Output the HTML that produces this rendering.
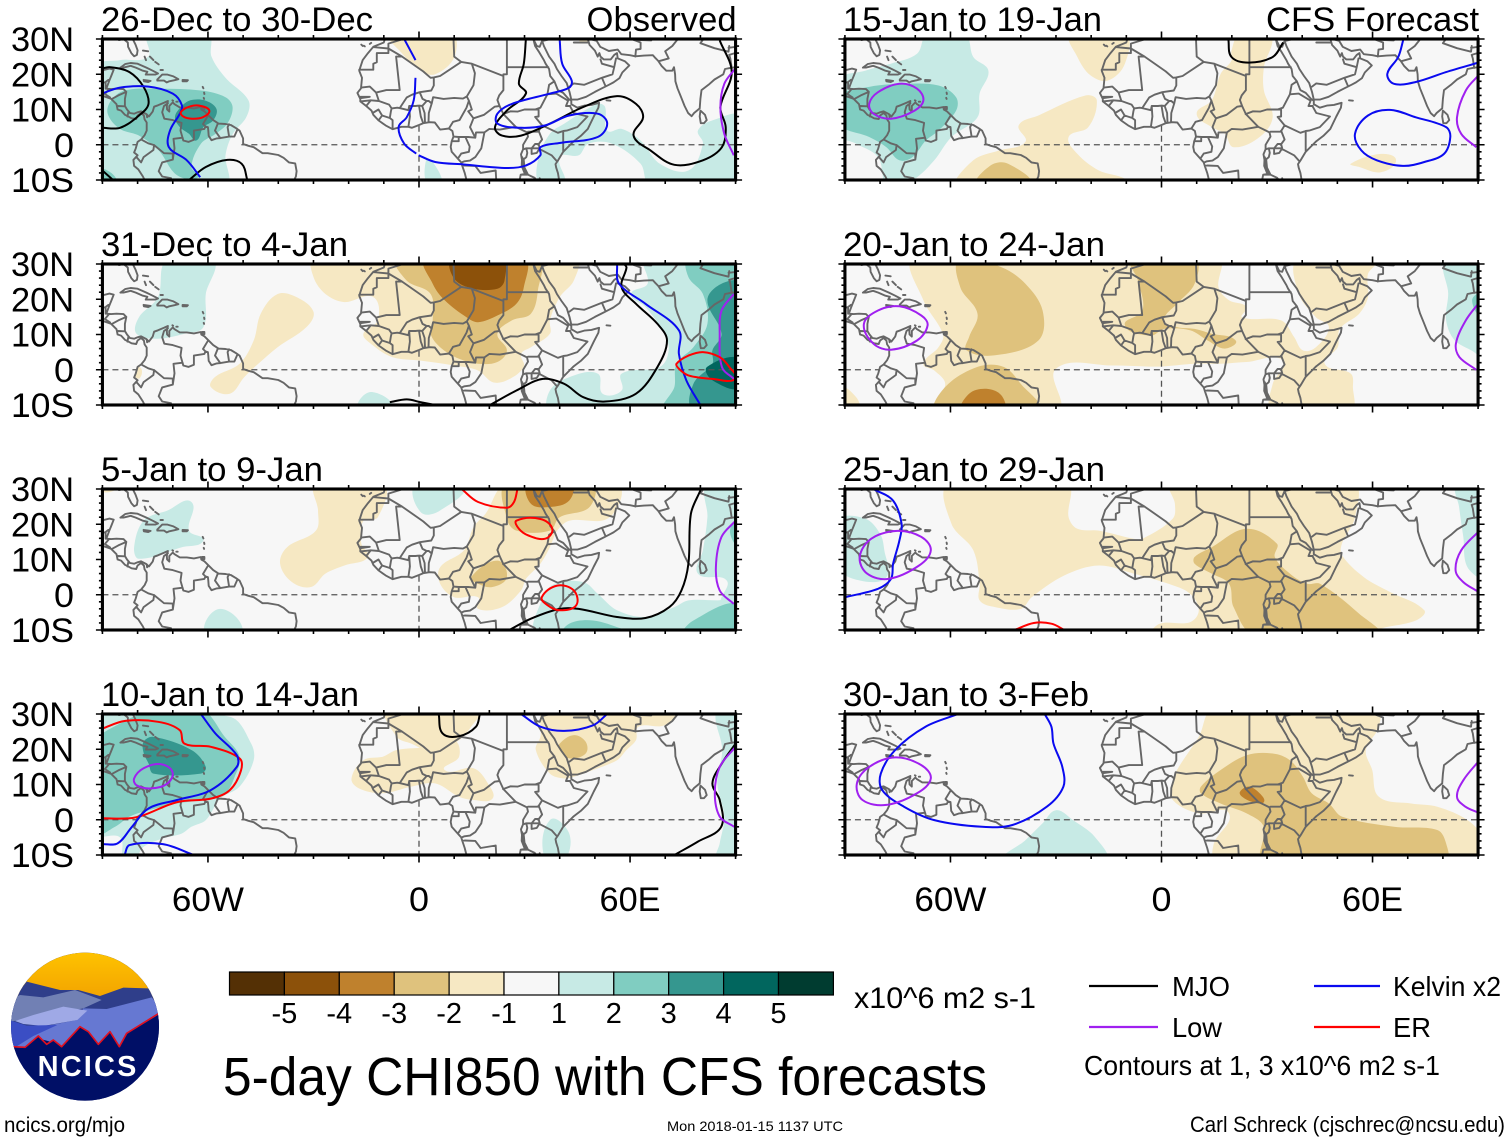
<!DOCTYPE html>
<html lang="en">
<head>
<meta charset="utf-8">
<title>5-day CHI850 with CFS forecasts</title>
<style>
html,body{margin:0;padding:0;background:#fff}
svg{display:block}
text{font-family:"Liberation Sans",Arial,sans-serif;fill:#000}
</style>
</head>
<body>
<svg id="chart" xmlns="http://www.w3.org/2000/svg" width="1510" height="1142" viewBox="0 0 1510 1142">
<rect x="0" y="0" width="1510" height="1142" fill="#ffffff"/>
<g id="panels"></g>
<g id="colorbar"></g>

<g transform="translate(0,940) scale(0.33333)">
<defs>
<clipPath id="logoClip"><circle cx="255" cy="260" r="222"/></clipPath>
<linearGradient id="sunGrad" x1="0" y1="0" x2="0" y2="1"><stop offset="0" stop-color="#ffc400"/><stop offset="1" stop-color="#f2a200"/></linearGradient>
</defs>
<g clip-path="url(#logoClip)">
<rect x="0" y="0" width="520" height="520" fill="#000f66"/>
<rect x="0" y="30" width="520" height="150" fill="url(#sunGrad)"/>
<polygon fill="#2f3e8a" points="20,190 60,150 80,125 120,135 180,150 235,150 300,168 370,143 445,145 490,190 490,260 20,260"/>
<polygon fill="#7180b4" points="30,180 60,165 130,172 225,150 305,180 250,205 30,245"/>
<polygon fill="#6678d2" points="250,205 320,207 455,172 490,215 380,290 358,330 330,280 295,320 240,265 185,325 150,305 115,295 80,330 40,330 50,300 130,260 230,240"/>
<polygon fill="#9fa9e6" points="45,243 100,225 190,200 262,212 232,240 130,258 70,252"/>
<polygon fill="#3b4ec4" points="20,238 80,257 172,255 100,288 45,322 20,320"/>
<polygon fill="#000f66" points="40,322 75,324 115,288 140,315 160,300 185,322 240,260 265,275 295,315 330,275 358,322 380,282 490,215 500,520 0,520 0,322"/>
<polyline fill="none" stroke="#e01020" stroke-width="5" stroke-linejoin="round" points="40,320 75,322 115,288 140,313 160,300 185,320 240,260 265,275 295,313 330,275 358,320 380,280 480,218"/>
</g>
<text x="113" y="408" font-size="87" font-weight="bold" textLength="296" lengthAdjust="spacing" style="fill:#ffffff">NCICS</text>
</g>

<text x="854" y="1008" font-size="30" textLength="182" lengthAdjust="spacingAndGlyphs">x10^6 m2 s-1</text>
<text x="223" y="1095" font-size="54" textLength="764" lengthAdjust="spacingAndGlyphs">5-day CHI850 with CFS forecasts</text>

<g>
<line x1="1089" x2="1158" y1="986" y2="986" stroke="#000000" stroke-width="2.2"/>
<text x="1172" y="996" font-size="28" textLength="58" lengthAdjust="spacingAndGlyphs">MJO</text>
<line x1="1314" x2="1380" y1="986" y2="986" stroke="#0a0af0" stroke-width="2.2"/>
<text x="1393" y="996" font-size="28" textLength="108" lengthAdjust="spacingAndGlyphs">Kelvin x2</text>
<line x1="1089" x2="1158" y1="1027" y2="1027" stroke="#a020f0" stroke-width="2.2"/>
<text x="1172" y="1037" font-size="28" textLength="50" lengthAdjust="spacingAndGlyphs">Low</text>
<line x1="1314" x2="1380" y1="1027" y2="1027" stroke="#ff0000" stroke-width="2.2"/>
<text x="1393" y="1037" font-size="28" textLength="38" lengthAdjust="spacingAndGlyphs">ER</text>
<text x="1084" y="1075" font-size="28" textLength="356" lengthAdjust="spacingAndGlyphs">Contours at 1, 3 x10^6 m2 s-1</text>
</g>

<text x="4" y="1132" font-size="21.5" textLength="121" lengthAdjust="spacingAndGlyphs">ncics.org/mjo</text>
<text x="667" y="1131" font-size="14" textLength="176" lengthAdjust="spacingAndGlyphs">Mon 2018-01-15 1137 UTC</text>
<text x="1190" y="1132" font-size="22" textLength="315" lengthAdjust="spacingAndGlyphs">Carl Schreck (cjschrec@ncsu.edu)</text>
</svg>

<script>
/* ---------- categories and tick labels ---------- */
const panelTitles = ['26-Dec to 30-Dec','31-Dec to 4-Jan','5-Jan to 9-Jan','10-Jan to 14-Jan','15-Jan to 19-Jan','20-Jan to 24-Jan','25-Jan to 29-Jan','30-Jan to 3-Feb'];
const titleWidths = [272,247,222,258,259,262,262,246];
const latTicks = [30,20,10,0,-10];
const latLabels = ['30N','20N','10N','0','10S'];
const lonTicks = [-60,0,60];
const lonLabels = ['60W','0','60E'];
const lonLabelWidths = [72,20,61];
const colorbarColors = ['#543005','#8c510a','#bf812d','#dfc27d','#f6e8c3','#f7f7f7','#c7eae5','#80cdc1','#35978f','#01665e','#003c30'];
const colorbarLabels = ['-5','-4','-3','-2','-1','1','2','3','4','5'];

/* ---------- base map, lon/lat pairs ---------- */
const coastLines = [
[-81.4,32,-81,31,-81.4,30,-80.6,28.4,-80,26.8,-80.2,25.5,-81,25.1,-81.8,26,-82.7,27.8,-82.8,29,-84,30,-85.3,29.7,-86.5,30.4,-89,30.3,-90,29.5,-92,29.5],
[-93,18.5,-92,18.6,-90.7,19.3,-90.4,21,-88,21.6,-86.8,21.3,-87.5,19.5,-88,18.3,-88.3,17.5,-88.9,15.9,-87.5,15.8,-86,15.9,-84,15.8,-83.2,15,-83.6,13,-83.6,11,-83,10,-82.2,9,-81,8.8,-80,9.2,-79,9.5,-77.5,8.7,-76.8,8,-75.7,9.4,-75.3,10.8,-74.2,11.2,-72.5,11.9,-71.4,12.4,-71.7,11,-71.6,10,-71,9.4,-71,11,-70,12,-69.5,11.5,-68,10.6,-66,10.6,-64,10.3,-62,10.7,-61.9,10,-61,9.5,-60,8.5,-58.5,7,-57,6,-55,5.9,-53.5,5.6,-52,4.7,-51,4,-50,1.8,-50,0.2,-48.5,-0.3,-47,-0.7,-44.5,-2.4,-43,-2.4,-40,-2.9,-38.5,-3.7,-37,-5,-35.2,-5.3,-34.8,-7.5,-35,-9,-35.5,-10,-36.5,-11],
[-93,15,-92,14.5,-90,13.9,-88,13.2,-87.5,13,-86,11.5,-85.7,10,-84.7,9.7,-83.6,8.5,-83,8.2,-81.7,7.5,-80.4,7.3,-80,8.3,-79,9,-78.2,8.3,-78,7.2,-77.4,6.3,-77.4,4,-78,2.7,-79,1.5,-80,0.8,-80.5,-1,-81,-2.2,-80,-3,-81.2,-4.3,-81,-6,-79.8,-7,-78.5,-9,-77.5,-11],
[-84.9,21.9,-83.5,22.9,-82,23.2,-80,23,-77.5,21.9,-75.7,21,-74.2,20.2,-75,19.9,-77.7,19.9,-77.2,20.7,-78.5,21,-80.5,21.9,-82,22.4,-84,21.9,-84.9,21.9],
[-74.4,18.5,-73,19.9,-71.5,19.9,-69.8,19.4,-68.4,18.6,-69.5,18.3,-71,18,-71.7,17.7,-72.5,18.2,-74.4,18.2,-74.4,18.5],
[-78.3,18.4,-76.3,18.1,-77,17.8,-78.2,18,-78.3,18.4],
[-67.2,18.4,-65.7,18.3,-66,18,-67.2,18,-67.2,18.4],
[-78.5,26.7,-77,26.5],[-78,25,-77.6,24],[-76.5,25,-75.5,24],[-75,23.5,-74,22.8],[-73.5,21.2,-72.8,21.2],[-61.5,16.4,-61.3,16],[-61.1,14.8,-61,14.4],[-61.2,13.3,-61.1,13],[-61.6,10.7,-61,10.7,-61,10.1,-61.7,10.1,-61.6,10.7],[-69,12.2,-68.6,12.2],[-70.1,12.6,-69.9,12.5],
[-16.4,28.4,-16,28],[-15.7,28.1,-15.4,27.9],[-14,28.6,-13.6,28.9],[53.3,12.6,54.4,12.5],
[-9.7,32,-9.7,30,-10,29,-13,27.8,-14.5,26,-16,24,-17,21,-16.2,19,-16.5,16,-17.5,14.7,-16.7,13,-16.7,12.3,-15,11,-13.5,9.7,-13,8.5,-11.5,6.9,-9.5,5.5,-7.5,4.4,-5,5.1,-3,5.1,-2,4.8,0,5.6,1.2,6.1,3,6.4,4.5,6.3,6,4.3,7,4.4,8.5,4.6,9.5,3.9,9.8,2.3,9.3,1,9,-0.6,9.3,-2,11,-3.9,12,-5,12.3,-6,13,-8,13.5,-10,13.8,-11.5],
[40,-11,39.5,-8,39,-6.5,38.8,-5.5,39.5,-4.5,41,-2,42.5,-0.5,44,1,46,2.5,48,4.5,49.7,8,51,10.5,51.2,11.9,49,11.3,47,11.1,45,10.5,43.3,11.5,43.3,12.5,42.5,13,41,14.7,39.5,15.5,38.5,18,37.3,19.5,37,21.5,36,23,35.5,24,34,26.5,33,28,32.5,30,32.6,31],
[32.5,30,33.5,28,34.3,27.8,35,29.5],
[35,29.5,35.5,28,37,25,38.5,23,39.2,21.5,40.5,19.5,42,17.5,42.8,15,43.3,12.8,45,12.8,47.5,13.6,50,15,52,16,54,17,55.3,17.7,57,18.9,57.8,20.5,59.8,22.5,58.5,23.7,56.5,24.5,56.3,26,55.5,25.5,54.5,24.2,52.5,24.2,51.6,25,51.3,26,50.8,25,50,26.7,48.5,28.3,48,30],
[48.5,30,50.5,29.5,51.5,27.8,54,26.6,56.5,27,57.5,25.7,60,25.4,61.5,25.1,64,25.3,66.5,25.4,67,24.8,68,23.8,69,22.3,70.3,21,72,21,72.5,22,72.8,20,72.9,18,73.5,16,74.5,13.5,75.5,11,76.5,9,77.5,8.1,78.2,9,79.8,10.3,80,13,80.3,15.5,82.3,17,84,18.5,86.5,20,87,21.5,88.5,21.8,90,22,91,22.5,92,21,92.5,20],
[80,9.7,81.3,8.5,81.8,7,81,6.1,80.1,6.1,79.8,8,80,9.7]
];
const lakeLines = [
[32,-1,33,0.2,34,0.2,34.3,-1,33.5,-2.3,32,-2.6,32,-1],
[29.3,-3.5,29.8,-4.5,30,-6.5,31,-8.5,30,-8,29.2,-6,29.3,-3.5],
[34.3,-9.5,34.6,-11,34.9,-12]
];
const borderLines = [
[-71.4,11.8,-72.5,11,-73,9.2,-72.4,7.4,-70,7,-67.5,6.2,-67.8,4,-67,1.2],
[-67,1.2,-65.5,0.8,-64,1.4,-64,4,-61,4.5,-60.7,5.2],[-60.7,5.2,-61.4,5.9,-60,8.2],
[-60.7,5.2,-60,5,-59.9,4,-59.8,2.5,-59,1.3,-57.5,1.8,-56.5,1.9],[-56.5,1.9,-58,4,-57.2,6],[-54,2.3,-54.4,5,-54,5.8],[-56.5,1.9,-54,2.3,-52.5,2.3,-51.7,4.1],
[-67,1.2,-67.2,2,-69.8,1.7,-69.5,-1,-70,-4.2],[-70,-4.2,-70,-2.5,-72.5,-2.4,-75.3,-0.1],[-75.3,-0.1,-77,0.4,-78.8,1.4],[-75.3,-0.1,-75.5,-1.5,-78.3,-3.5,-79,-5,-80.3,-3.5],
[-70,-4.2,-73,-5,-74,-7.5,-73,-9,-70.5,-9.5,-70.5,-11],[-69.5,-11,-65.4,-10,-65.3,-12],
[-77.4,8.6,-77.3,7.8],[-82.9,8,-82.6,9.5],[-85.7,11,-83.7,10.9],[-87.3,13,-85.5,14,-83.2,15],[-87.8,13.4,-89.3,14.4],[-89.3,14.4,-88.2,15.7],[-89.1,15.9,-89.1,17.8],[-92.2,14.6,-91,16,-91,17.2,-89.1,17.8],[-89.1,17.8,-88.3,18.4],
[-1.5,32,-3,30.5,-5.5,29.7,-8.7,28.7,-8.7,27.3],[-8.7,27.3,-13,27.7],[-8.7,27.3,-8.7,26,-12,26,-12,23.4,-13,23,-13,21.3,-17,21.3],
[-8.7,27.3,-4.8,25,-6.5,25,-5.5,15.5,-9.3,15.5,-12.2,14.8,-14,16.5,-16.4,16.2],[-4.8,25,1.2,20.8,3.3,19,4.2,19.1],[4.2,19.1,4.2,16.8,3.5,15.4,0.2,14.9],[4.2,19.1,6,19.5,12,23.5],[12,23.5,10,25,9.8,30,9.5,32],[12,23.5,15,23],[15,23,24,19.5],[25,32,25,22],[25,22,25,20,24,20,24,19.5],[25,22,36.8,22],
[15,23,15.9,20.3,15.5,16.9,13.6,13.7],[24,19.5,24,15.5,22.8,14,22.3,12.7,22.9,11],[13.6,13.7,12.5,13.1,10,13.3,7,13,4,13.5,3.6,11.7],[3.6,11.7,2.8,12.4,2.2,12.4],[2.2,12.4,1,13,0.2,14.9],[0.2,14.9,-2,14.2,-3.5,13.4,-5.5,10.4],
[-12.2,14.8,-11.4,12.4,-8.5,11.4,-7.8,10.3,-6.2,10.5,-5.5,10.4],[-5.5,10.4,-3,9.8,-2.8,11,-1,11,0,11.1,0.9,11,2.2,12.4],[0,11.1,0.5,8,1.2,6.1],[0.9,11,1.6,9,1.7,6.2],[3.6,11.7,2.8,9,2.7,6.4],[-2.8,11,-2.6,8,-3,5.1],[-7.5,4.4,-7.5,7,-8.3,7.6],[-8.3,7.6,-8,9.5,-7.8,10.3],[-11.5,6.9,-10.5,8.3,-8.3,7.6],[-13.2,9,-11.5,10,-10.5,8.3],[-15,11,-13.7,12.6,-11.4,12.4],[-16.7,12.3,-13.7,12.6],[-16.7,13.6,-14,13.6,-16.7,13.2],
[8.5,4.6,9.7,6.5,11.5,7,13.5,10.5,14.2,12.5,13.6,13.7],[14.2,12.5,15,10,14,9.5,15.5,7.5],[15.5,7.5,18.5,8.5,21.5,10.8,22.9,11],[22.9,11,24,8.7,27.5,5.1],[15.5,7.5,14.5,5,16,2],[16,2,14,2.2,11.3,2.2,9.8,2.3],[11.3,2.2,11.3,1,9.5,1],[13.2,2.2,14.4,-0.5,14.2,-2,12,-2.5,11.2,-3.7],[18.6,3.5,17.7,-1,16,-3.5,14.5,-4.5,12.9,-4.7,12.2,-5],[18.6,3.5,20,4.5,23,4.3,27.5,5.1],[16,2,16.2,3.5,18.6,3.5],
[12.3,-6,13,-5.9,16,-6,17.5,-8,21.8,-7.3,22,-11,24,-11],[27.5,5.1,30.7,3.5,31,2.3,29.6,0,29.6,-1.3,29,-2.7,29.3,-4.5,29.6,-7,30.7,-8.2,28.9,-8.5,28.4,-11],
[23.9,8.7,26,9.5,28,9.4,30,10,33,10,34,10],[36.5,14.3,34.5,10.5,33,10],[34,10,34,8,33,7.9,35,5.5],[31,3.7,33.9,3.7,35,5.5],[38.5,18,37,17,36.5,14.3],[36.5,14.3,39,14.5,42.4,12.5],[42.4,12.5,41.8,11,43,11],[43,10.8,44,9,47.9,8,45,5,42,4,41,3.9],[35,5.5,39.5,3.4,41,3.9],[41,3.9,41,-1.7],[34,4,35,1.5,33.9,0],[33.9,-1,37.7,-3,39.2,-4.7],[30.5,-1,33.9,-1],[29.6,-1.3,30.5,-1,30.8,-2.3,30.5,-3.5,29.3,-4.5],[32.9,-9.4,34.5,-11.5],[34.9,-11.5,37.5,-11.5,40.4,-10.5],[29,-8.5,31,-8.5,32.9,-9.4],
[42.8,16.5,44,17.4,47,17,52,19,55,20,55.5,22,52,23,51.6,24.2],[52,19,53,16.7],[55.5,22,56,24.5],[35,29.4,37.5,30,36,31.5],[38,30,40.5,31.5],[44,29,46.5,29,48,29],[48,30,48.5,30.5],
[61.5,25,61.7,27,63,27.2,63,29,60.9,29.8,61,31],[60.9,29.8,66,29.6,67,31],[68.2,23.7,71,24.5,70,26.5,72,28,74,30.5,74.5,32],[80,28.8,84,27.4,88,26.4,88.2,28],[88.9,21.8,88.5,24.5,88.2,25.5,89.8,26,92,25,91,23.5,92.3,23.7,92.5,21],[79,32,81,30.2,80,28.8],[88,27.5,92,28,97,28]
];
const equatorOceanSpans = [[-90,-80],[-50.5,9.2],[42.5,90]];
const meridianOceanSpan = [5.4,-10];

/* ---------- shaded anomaly regions: [level, [lon,lat,...]] ---------- */
const shadesP1 = [
[1,[-77,30,-60,30,-59,25,-55,19,-48.5,12.6,-49,8,-53,3,-55,-3,-55,-11,-91,-11,-91,22,-85,24,-77,25]],
[2,[-87.5,12.6,-83.7,15.4,-74,15.9,-62,15.4,-55,13.5,-53,10.7,-54.5,6,-58,3,-62,0.3,-64.7,-6.3,-62.6,-9.2,-68.7,-8.7,-74,-1.6,-79.6,2.6,-85,4.5,-88.5,8.8]],
[2,[-90,-7,-87.5,-8,-86,-10,-90,-10]],
[3,[-67.7,10.7,-65,12.6,-61,12.6,-57.6,10.2,-58.5,6.9,-61.3,5,-63.3,1.2,-65.4,3.1,-68,5,-69.4,7.8]],
[-1,[-8.3,30,9.3,30,10,24.8,4.6,20,0.5,21,-4.9,26]],
[-1,[45,30,49,30,48,29,46,29]],
[1,[41.3,6,50.8,11.6,52.9,10.7,53.5,4,57.6,4.5,63,1.2,68.5,-5.4,76.6,-7.3,80.7,0.3,79.3,4,83.4,6.9,90,7.8,90,-10,65.8,-10,63,-5.4,54.9,0.3,48.1,0.3,45.4,-3,40,-3.5,41.3,-10,34.5,-10,33.8,-4.4,37.2,3.1]],
[1,[2,-4.4,4,-5,6.5,-10,2.5,-10]]
];
const shadesP2 = [
[-1,[-30,30,44.7,30,44,25.3,40,20.6,37.2,14,37.2,10.2,31.8,6.4,29,4.5,29.8,0.8,25,-3,20.9,-3.5,16.8,-0.2,10,1.2,0.5,2.6,-7.6,3.6,-13.7,7.4,-15.8,10.2,-11.7,14,-13,20.6,-21.2,19.2,-26.6,21.5,-30,26.3]],
[-2,[-6.3,30,33.8,30,33.8,22.5,31.8,15.9,26.4,14,22.3,10.2,25,5.5,22.3,2.2,16.8,1.7,11.4,3.1,6,6.4,3.3,10.2,3.9,14,3.3,21.5,-3.5,25.3]],
[-3,[1.9,30,29.8,30,29.8,23.4,27.7,18.7,22.3,15.4,16.8,13.5,13.5,14.9,7.3,19.7,3.9,24.4]],
[-4,[9.4,30,23.6,30,24.3,25.3,22.3,23,15.5,23,10,25.8]],
[-1,[-40.2,21.5,-34.8,20.6,-30,16.4,-32,12.1,-40.2,6.4,-45.7,1.7,-49.7,-2.1,-53.8,-6.8,-59.2,-4.9,-57.9,-2,-51,1.7,-47,8.3,-45,15.9]],
[-1,[-80,0.8,-78.8,0,-79.4,-2.4,-80.6,-2]],
[1,[-71.5,30,-58.6,30,-60.6,21.5,-61.3,12.1,-66.7,10.2,-74.2,8.8,-80.3,10.2,-79.6,14.9,-74.2,20.6]],
[1,[-17.1,-10,-13.7,-6.3,-7.6,-10]],
[1,[64.4,30,65,24.4,60.3,21.5,64.4,17.8,69.8,10.2,71,5.5,68.5,0.8,57.6,-1.1,57.6,-5.9,52.2,-6.8,50.8,-1.1,42.7,-2.1,37.2,-5.9,37.2,-10,90,-10,90,30]],
[2,[76.6,30,90,30,90,-10,69.8,-10,72.6,-4.9,73.2,1.7,78,6.4,82,13,80.7,21.5,76.6,26.3]],
[3,[86,24.4,90,24.4,90,-10,78,-10,78,-4,83.4,1.7,83.4,5.5,86,10.2,82,19.7]],
[4,[81.9,0.8,90,3,90,-5,83.4,-3]]
];
const shadesP3 = [
[-1,[-29.3,30,-10.3,30,-11.7,22,-15.8,21,-16.4,14.5,-14.4,10.7,-21.2,8.3,-26.6,6,-30.7,2.2,-36.1,3.6,-39.5,8.8,-37.5,13.5,-29.3,18.2,-28.7,23.9]],
[-1,[18.9,23,25,30,56.3,30,54.2,22,42.7,21,39.3,18.2,37.2,13.5,34.5,8.8,30.4,4.5,29,1.2,23.6,-3.5,16.8,-4,16.8,-0.7,10,-0.7,6,3.1,6,7.8,12.8,12.6,15.5,19.2]],
[-2,[25,30,49.2,30,48.5,24.9,40,22,37.2,18.2,27.7,18.2,25,21.5]],
[-2,[14.8,5,22.3,9.7,25,5,20.9,2.2,16.8,3.1]],
[-3,[31.1,30,43.3,30,42.7,26.7,37.2,24.9,31.8,25.8]],
[-1,[-90,30,-85,30,-89,29]],
[1,[-64.7,26.3,-65.4,18.2,-61.3,15.4,-67.4,13.5,-79.6,10.2,-81,13.5,-78.3,21,-71.5,23.9]],
[1,[-0.8,30,12.8,30,6,23.9,0.5,23.4]],
[1,[-60.6,-10,-56.5,-4,-50.4,-10]],
[1,[33.8,-10,35.2,-0.7,38.6,3.1,46.7,3.6,50.8,0.3,56.3,-4.4,64.4,-6.3,72.6,-3.5,76.6,-1.6,84.8,-1.6,90,-1.6,90,-10]],
[1,[82,30,90,30,90,-2.6,86,-2.6,87.5,4,79.3,6,80.7,12.6,82,22]],
[2,[40.7,-10,42.7,-8.2,49.5,-7.3,57.6,-9.6,63,-10]],
[2,[75.3,-10,78,-7.3,90,-2.6,90,-10]],
[2,[88.4,18,90,22,90,13.5]]
];
const shadesP4 = [
[1,[-90,30,-53.8,29.2,-47.7,21.6,-47,16.9,-51,9.4,-56.5,6,-60.6,-0.1,-64.7,-2,-67.4,-3.9,-72.8,-5.3,-78.3,-7.7,-81,-10,-84,-10,-85,-5,-90,-3.9]],
[2,[-90,21.6,-85,27.3,-74.2,30,-62,30,-55.2,23.5,-51,17.9,-52.4,12.2,-55.2,7.5,-62,5.6,-68.8,4.6,-76.9,2.7,-82.3,0.9,-86.4,-2,-90,-3.9]],
[3,[-78.3,22.1,-75.5,23.5,-64.7,19.8,-60.6,15,-62,13.1,-75.5,13.1,-76.9,16,-78.3,19]],
[1,[35.9,-10,37.2,-0.1,42.7,-3.9,41.3,-10]],
[1,[84.8,30,90,30,90,-10,84.8,-10,85.5,-6.7,86.8,0.9,84.8,10.3,86.2,19.8]],
[-1,[-9,30,17.5,30,14.8,26.4,11.4,22.6,3.9,19.3,-2.2,21.6,-6.3,23.5]],
[-1,[-6.3,19.8,3.3,20.7,10,22.6,11.4,17.9,7.3,14.1,15.5,14.6,19.6,10.3,20.9,6,15.5,5.6,11.4,6.5,4.6,10.3,-2.2,9.4,-10.3,7.5,-17.1,8.9,-19.2,11.7,-15.8,16.9,-10.3,17.9]],
[-1,[33.2,19.8,34.5,23.5,35.9,30,73.9,30,69.8,26.8,62.4,26.4,61.7,22.6,59,19.8,56.3,16.9,49.5,14.1,44,12.2,41.3,11.7,37.2,13.1]],
[-2,[40,21.6,44,24,47.4,22.1,47.4,18.8,42.7,17.4,40,19.8]]
];
const shadesP5 = [
[1,[-66.5,30,-56,30,-53.5,24.9,-49.2,21,-51.7,14.5,-52.3,7.8,-59.7,2.2,-64.6,-4.4,-69.5,-9.2,-74.5,-10,-78.2,-10,-80.6,-3.5,-86.8,0.3,-90,3.1,-90,18.2,-84.3,21,-77,23,-69.5,25.8]],
[2,[-90,13.5,-83.1,16.4,-73.3,17.3,-63.4,16.8,-58.4,13.5,-58.4,9.7,-63.4,4,-67,1.2,-70.8,-3.5,-74.5,-4.4,-78.2,-0.7,-83.1,2.2,-90,6]],
[-1,[-57.8,-10,-53.5,-4.4,-46.1,-1.6,-38.7,0.8,-40.6,5.5,-35,8.3,-21.5,14,-18.4,12.6,-20.8,5,-26.4,2.2,-23.9,-2.6,-17.8,-7.3,-10.4,-9.6,-10,-10]],
[-2,[-52.3,-10,-48.6,-5.9,-43.6,-5.4,-37.5,-10]],
[-1,[-25.8,30,-10.4,30,-10.4,23,-15.3,18.2,-20.2,19.7,-23.9,24.9]],
[-1,[19.9,26.7,22.3,30,31,30,29.1,22,29.1,15.4,31.6,7.8,27.9,2.2,20.5,-0.7,18,3.1,14.3,5,10,8.8,14.3,12.6,16.8,20.1,19.9,23.9]],
[-1,[53.8,-5.4,62.4,-2.6,66.7,-4.4,62.4,-7.8,56.2,-6.3]]
];
const shadesP6 = [
[-1,[-70.2,30,16.2,30,16.2,23.4,19.2,19.7,24.2,17.8,22.9,14.9,34,14,37.7,9.3,40.2,5.5,43.9,6.4,47.6,12.1,43.9,14.9,39,21.6,39,30,61.8,30,58.7,27.2,58.7,20.6,56.2,15.9,50.7,11.6,50.1,6.4,46.4,1.7,53.8,-1.1,54.4,-4.9,53.8,-10,31.6,-10,31.6,-4,34.6,2.6,24.2,2.2,16.8,1.7,9.4,1.7,-0.5,0.9,-14,1.2,-30,0.3,-29.5,-10,-64,-10,-61.5,-4,-64.6,-0.2,-67.7,1.7,-63.4,6.4,-62.1,10,-67.7,19.7]],
[-2,[-57.2,30,-45.5,29.1,-38.7,24.4,-33.8,16.8,-35,8.3,-47.3,4.1,-55.4,5.5,-54.7,9.3,-52.3,15.9,-57.2,23.4]],
[-2,[-64,-10,-61.5,-4.9,-52.3,0.8,-44.9,0.8,-40,-4,-35,-10]],
[-3,[-56.6,-10,-54.7,-6.8,-49.8,-5.4,-45.5,-7.3,-44.9,-10]],
[-1,[-90,-4.9,-86.8,-7.8,-86.2,-10,-90,-10]],
[-2,[-8.5,30,9.4,30,9.4,24.4,4.4,18.7,0.7,14,4.4,12.1,9.4,11.6,14.3,10.2,21.1,8.3,18,6,13.1,8.3,8.1,11.2,0.7,11.6,-3,9.7,-10.4,12.6,-5.4,16.8,-6.7,25.3]],
[1,[80.9,30,90.4,30,90.4,0.3,89.5,4.5,83.4,8.3,80.9,14,81.5,21.6]],
[2,[88.3,19.7,90.4,21.6,90.4,14.9]]
];
const shadesP7 = [
[-1,[-60.3,30,-27,30,-26.4,22,-23.9,18.7,-17.8,18.2,-7.9,15.9,-5.4,15.9,3.2,21.6,3.8,25.8,2.6,30,54.4,30,55,22,51.3,14.5,51.3,11.2,57.5,5,64.9,0.8,74.7,-4.4,72.3,-7.3,62.4,-9.6,58.7,-10,-3,-10,-0.5,-8.2,8.1,-7.8,10.6,-4.4,8.1,0.3,2,3.1,-7.9,6,-17.8,8.3,-27.6,5.5,-36.9,-0.7,-40,-4,-47.3,-3.5,-51.7,-1.6,-51.7,3.1,-53.5,12.6,-59.7,20.1]],
[-2,[9.4,10.7,14.3,13.5,24.2,18.7,32.8,14.5,32.2,10.7,36.5,6,41.4,3.1,45.1,3.1,56.2,-5.4,61.8,-10,26.6,-10,20.5,-3.5,19.2,3.1,14.3,6,9.4,8.8]],
[1,[-90,21,-84.3,21.6,-80,17.3,-78.8,12.6,-78.2,5,-85.6,4,-90,7.8]],
[1,[84,30,90.4,30,90.4,5,87,7.8,85.8,16.4,84.6,24.9]]
];
const shadesP8 = [
[-1,[14.9,30,61.2,30,61.8,26.4,58.1,19.8,59.9,14.1,61.8,6.5,71,4.6,78.4,3.7,87,-0.1,90.4,-5.8,90.4,-10,15.5,-10,14.9,-6.7,19.2,1.8,10.6,1.8,3.2,5.6,3.2,10.3,4.4,14.1,10.6,23.5]],
[-2,[11.2,9.4,16.8,14.1,24.2,18.3,31.6,18.8,36.5,16.9,40.2,12.2,42.7,7.5,47.6,4.6,51.3,0.9,66.1,-2,78.4,-2.9,80.9,-6.7,80.9,-10,29.1,-10,29.1,-2,24.2,1.8,16.8,4.6,11.2,7.5]],
[-3,[22.3,7.9,24.8,9.4,27.9,7.5,29.1,5,26,5,22.9,6.5]],
[1,[-44.9,-10,-38.7,-5.8,-33.8,-1,-30,2.7,-25.2,-0.1,-19,-4.8,-15.9,-10]]
];

/* ---------- filtered wave contours: [wave, [lon,lat,...], closed] ---------- */
const contoursP1 = [
['mjo',[-90.2,21.6,-87.8,22,-82.3,20.6,-78.3,16.4,-76.9,11.6,-79.6,8.3,-85,4.8,-90.2,4.8],0],
['mjo',[-65.4,-10,-60.6,-6.3,-54.5,-4.3,-50.4,-5.4,-48.8,-10],0],
['mjo',[-90,-7.3,-87,-10],0],
['mjo',[30.4,30,29.8,23,28.4,17.3,30.4,14.5,25,9.7,21.6,5,23.6,2.6,29,2.6,37.2,6,46.7,10.7,56.3,13.8,61.7,11.6,63.7,7.8,61,2.6,65.8,-1.6,72.6,-5.7,80.7,-4.4,86.1,-0.7,87.2,5,85.7,10.7,88.9,20.6,85.5,29.6],0],
['kelvin',[-90.2,14.5,-85,16.2,-76.9,16.5,-70,14.5,-67.4,11.2,-68,8.8,-70.8,4,-71.1,-0.7,-66,-4.4,-62.2,-9.2],0],
['kelvin',[-4.2,30,-1,24],0],
['kelvin',[-1,19,-1.5,12.6,-3.5,7.8,-5.8,5,-4.2,0.3,-0.8,-2.5],0],
['kelvin',[-0.1,-3,4.6,-4.9,12.8,-5.6,25,-6.6,30.4,-5.9,34.5,-3,34.5,-0.7,40,0.5,50.8,2.2,53.5,6,50.8,8.8,42.7,8.3,35.9,5.5,29,4.8,22.3,6,22.3,8.8,26.4,11.6,37.2,14.5,42.7,16.2,43.4,18.2,40.7,23,40,29.6],0],
['low',[89.8,21.5,86.8,17.3,85.7,10.7,86.8,3.1,89.5,-3],0],
['er',[-67.7,9.3,-65,10.9,-62,11,-59.6,9.6,-61.5,7.8,-64.5,7.4,-67,8],1]
];
const contoursP2 = [
['mjo',[-8.3,-9.2,-3.5,-8.4,0.5,-9.2,4.6,-10],0],
['mjo',[20.2,-10,27.7,-5.9,35.2,-2.6,41.3,-4,46.7,-7.8,52.9,-9,61.7,-6.8,67.8,0.8,70.5,8.3,67.8,13,61.7,18.7,57.6,23.4,59,29,58.3,30],0],
['kelvin',[56.3,30,56.9,24.4,64.4,18.7,73.9,11.2,73.9,4.5,76,-3,80,-10],0],
['low',[89.5,21.5,86,16.8,85.5,10.2,86.1,0.8,89.5,-2.6],0],
['er',[73.2,1.7,76.6,4,80.7,5,85.5,3.6,88.2,0.8,90,-2.6,83.4,-2.6,76.6,-1.6,73.9,0.3],1]
];
const contoursP3 = [
['mjo',[25.7,-10,31.8,-6.8,40,-4,45.4,-4,56.3,-6.3,64.4,-6.6,71.2,-3.5,74.6,1.2,76.6,8.8,77.3,23,80,29.6],0],
['low',[90,21,86,16.4,84.4,7.8,85.5,1.2,89.5,-2.6],0],
['er',[12.1,30,16.8,26.3,25,24.7,27,26.3,28,30],0],
['er',[27.7,21,34.5,21.5,37.9,18.7,35.9,15.9,31.1,16.8,28.4,18.7],1],
['er',[34.9,-0.7,39.3,2.6,44,1.2,44.7,-3,40,-4.4,36.6,-3],1]
];
const contoursP4 = [
['er',[-90,25.9,-83.7,28,-74.2,27.8,-68,25.4,-66.7,21.6,-59.2,20.7,-51,17.4,-50.6,14,-53.8,8.4,-59.2,6,-68.8,5,-78.3,1.3,-82.3,0.4,-90,0.4],0],
['kelvin',[-62,30,-57.9,24.5,-51.8,18.3,-51.8,15,-59.2,8.4,-68.8,5.6,-76.9,3.2,-81.6,-2,-85.7,-6.7,-90,-6.9],0],
['kelvin',[-83.7,-10,-82.3,-7.2,-72.8,-6.9,-64,-10],0],
['kelvin',[29,30,34.5,26.4,41.3,25.2,49.5,26.8,53.5,30],0],
['mjo',[5.6,30,6.7,24.5,11.4,23.7,16.2,26.4,17.3,30],0],
['mjo',[72.6,-10,79.3,-6.2,85.9,-2,85.5,5.6,83.4,10.3,86.1,16,90,21.6],0],
['low',[90,20.7,85.5,15,84.1,7.5,85.5,0.9,89.6,-2],0],
['low',[-81,11.7,-78.3,14.6,-73.5,15.8,-70.1,13.6,-71.5,10.3,-76.2,8.9,-80.3,9.8],1]
];
const contoursP5 = [
['mjo',[19,30,19.9,24.9,24.8,23.3,31.6,24.9,34.6,29],0],
['kelvin',[68.8,30,67.3,24.9,64.2,20.1,66.1,17.3,72.3,17.8,80.9,20.6,90.4,23.4],0],
['kelvin',[55,3.1,58.7,8.3,64.9,9.9,72.3,7.8,80.9,5,82.1,2.2,80.3,-2.6,74.7,-4.9,68.6,-6,61.2,-4.4,56.8,-1.6],1],
['low',[90.4,20,86.5,15.4,84,7.8,85.2,3.1,89.5,-0.7],0],
['low',[-83.1,11.6,-80.6,14.9,-74.5,17.3,-69.5,15.9,-67.7,12.6,-70.2,9.7,-76.9,7.4,-81.9,8.8],1]
];
const contoursP6 = [
['low',[90.4,19.2,86.5,14,83.7,7.4,84.7,3.6,89.5,0],0],
['low',[-84.6,13,-80.6,16.8,-74.5,18,-68.3,15.4,-66.5,12.6,-69.5,8.3,-76.9,5.7,-81.9,7.4],1]
];
const contoursP7 = [
['kelvin',[-81.9,30,-76.3,26.7,-73.9,20.1,-74.5,15.4,-76.3,8.8,-76.9,4.5,-80.6,1.7,-89.9,-0.7],0],
['low',[-85.8,10.7,-82.5,15.9,-75.1,18.1,-68.3,16.4,-65.6,12.6,-68.9,8.3,-77.6,4.5,-83.7,6],1],
['low',[90.4,18.2,85.2,12.6,83.6,6.9,85.8,3.6,90.1,0.8],0],
['er',[-41.8,-10,-36.3,-8,-31.3,-8.2,-27.6,-10],0]
];
const contoursP8 = [
['kelvin',[-57.8,30,-67.1,26.4,-75.7,19.8,-79.8,13.1,-79.4,8.4,-73.2,3.7,-64.6,-0.1,-51,-2,-42.4,-1.5,-32.6,3.7,-27.9,9.4,-28.2,15,-30.7,21.6,-31.3,26.4,-33.2,30],0],
['low',[-86.6,10.3,-83.1,15,-75.7,17.7,-68.3,15.5,-65.6,11.7,-69.5,7.5,-78.2,4.2,-85,5.6],1],
['low',[90.4,16.9,85.8,11.2,84,6.5,86.4,3.7,90.1,2],0]
];
const panelShades = [shadesP1,shadesP2,shadesP3,shadesP4,shadesP5,shadesP6,shadesP7,shadesP8];
const panelContours = [contoursP1,contoursP2,contoursP3,contoursP4,contoursP5,contoursP6,contoursP7,contoursP8];

/* ---------- drawing ---------- */
const NS = 'http://www.w3.org/2000/svg';
const PX_LON = 3.5175, PX_LAT = 3.525;
const levelColor = {'-5':'#543005','-4':'#8c510a','-3':'#bf812d','-2':'#dfc27d','-1':'#f6e8c3','1':'#c7eae5','2':'#80cdc1','3':'#35978f','4':'#01665e','5':'#003c30'};
const waveColor = {mjo:'#000000',kelvin:'#0a0af0',low:'#a020f0',er:'#ff0000'};
function make(tag, attrs, parent){
  const el = document.createElementNS(NS, tag);
  for (const k in attrs) el.setAttribute(k, attrs[k]);
  parent.appendChild(el);
  return el;
}
function pairs(flat, fx, fy){
  const out = [];
  for (let i = 0; i < flat.length; i += 2) out.push([fx(flat[i]), fy(flat[i+1])]);
  return out;
}
/* spline whose handle length follows each segment, so long straight runs do not overshoot */
function smooth(p, closed){
  const n = p.length;
  const at = i => closed ? p[(i+n)%n] : p[Math.max(0,Math.min(n-1,i))];
  const unit = (a, b) => {
    const dx = b[0]-a[0], dy = b[1]-a[1], l = Math.hypot(dx,dy) || 1;
    return [dx/l, dy/l];
  };
  let d = 'M' + p[0][0].toFixed(1) + ' ' + p[0][1].toFixed(1);
  const last = closed ? n : n-1;
  for (let i = 0; i < last; i++){
    const a = at(i-1), b = at(i), c = at(i+1), e = at(i+2);
    const seg = Math.hypot(c[0]-b[0], c[1]-b[1]) / 3;
    const t1 = unit(a, c), t2 = unit(b, e);
    d += 'C' + (b[0]+t1[0]*seg).toFixed(1) + ' ' + (b[1]+t1[1]*seg).toFixed(1) + ' ' +
         (c[0]-t2[0]*seg).toFixed(1) + ' ' + (c[1]-t2[1]*seg).toFixed(1) + ' ' +
         c[0].toFixed(1) + ' ' + c[1].toFixed(1);
  }
  return closed ? d + 'Z' : d;
}
function straight(lines, fx, fy){
  return lines.map(l => 'M' + pairs(l, fx, fy).map(q => q[0].toFixed(1) + ' ' + q[1].toFixed(1)).join('L')).join('');
}
const extendLon = v => v <= -90 ? -92 : (v >= 90 ? 92 : v);
const extendLat = v => v >= 30 ? 31.5 : (v <= -10 ? -11.5 : v);

const panelsRoot = document.getElementById('panels');
panelTitles.forEach(function(title, idx){
  const col = idx < 4 ? 0 : 1, row = idx % 4;
  const centre = col === 0 ? 419 : 1161.5;
  const top = 39 + row * 225;
  const xOf = lon => centre + lon * PX_LON;
  const yOf = lat => top + (30 - lat) * PX_LAT;
  const left = xOf(-90), right = xOf(90), bottom = yOf(-10);

  const g = make('g', {}, panelsRoot);
  
  

  const clip = make('clipPath', {id:'clip' + idx}, g);
  make('rect', {x:left, y:top, width:right-left, height:bottom-top}, clip);

  const bg = make('rect', {x:left, y:top, width:right-left, height:bottom-top, fill:'#f7f7f7'}, g);
  
  

  const inner = make('g', {'clip-path':'url(#clip' + idx + ')'}, g);
  
  

  panelShades[idx].forEach(function(s){
    const pts = pairs(s[1], v => xOf(extendLon(v)), v => yOf(extendLat(v)));
    const el = make('path', {d:smooth(pts, true), fill:levelColor[s[0]]}, inner);
    
    
  });

  equatorOceanSpans.forEach(function(sp){
    const el = make('line', {x1:xOf(sp[0]), x2:xOf(sp[1]), y1:yOf(0), y2:yOf(0), stroke:'#555', 'stroke-width':1.3, 'stroke-dasharray':'6 4'}, inner);
    
    
  });
  const mer = make('line', {x1:xOf(0), x2:xOf(0), y1:yOf(meridianOceanSpan[0]), y2:yOf(meridianOceanSpan[1]), stroke:'#555', 'stroke-width':1.3, 'stroke-dasharray':'6 4'}, inner);
  
  

  const land = make('path', {d:straight(coastLines.concat(lakeLines, borderLines), xOf, yOf), fill:'none', stroke:'#666666', 'stroke-width':1.9, 'stroke-linejoin':'round', 'stroke-linecap':'round'}, inner);
  
  

  panelContours[idx].forEach(function(c){
    const el = make('path', {d:smooth(pairs(c[1], xOf, yOf), !!c[2]), fill:'none', stroke:waveColor[c[0]], 'stroke-width':2}, inner);
    
    
  });

  const frame = make('rect', {x:left, y:top, width:right-left, height:bottom-top, fill:'none', stroke:'#000', 'stroke-width':3.1}, g);
  
  

  let tickD = '';
  for (let lon = -90; lon <= 90; lon += 10){
    const len = lon % 60 === 0 ? 6.5 : 3;
    tickD += 'M' + xOf(lon) + ' ' + bottom + 'v' + (len + 1) + 'M' + xOf(lon) + ' ' + top + 'v-' + (len + 1);
  }
  for (let lat = -10; lat <= 30; lat += 2){
    const len = lat % 10 === 0 ? 5.5 : 2.5;
    tickD += 'M' + left + ' ' + yOf(lat) + 'h-' + (len + 1) + 'M' + right + ' ' + yOf(lat) + 'h' + (len + 1);
  }
  const ticks = make('path', {d:tickD, stroke:'#000', 'stroke-width':1.6, fill:'none'}, g);
  
  

  const titleText = make('text', {x:col === 0 ? 101 : 843, y:top - 8, 'font-size':34, textLength:titleWidths[idx], lengthAdjust:'spacingAndGlyphs'}, g);
  titleText.textContent = title;
  
  

  if (col === 0){
    latTicks.forEach(function(lat, i){
      const t = make('text', {x:74, y:yOf(lat) + 12, 'text-anchor':'end', 'font-size':34, textLength:latLabels[i] === '0' ? 20 : 63, lengthAdjust:'spacingAndGlyphs'}, g);
      t.textContent = latLabels[i];
      
      
    });
  }
  if (row === 3){
    lonTicks.forEach(function(lon, i){
      const t = make('text', {x:xOf(lon), y:911, 'text-anchor':'middle', 'font-size':34.5, textLength:lonLabelWidths[i], lengthAdjust:'spacingAndGlyphs'}, g);
      t.textContent = lonLabels[i];
      
      
    });
  }
  if (idx === 0 || idx === 4){
    const tag = make('text', {x:right + 1, y:top - 8, 'text-anchor':'end', 'font-size':34, textLength:idx === 0 ? 150 : 213, lengthAdjust:'spacingAndGlyphs'}, g);
    tag.textContent = idx === 0 ? 'Observed' : 'CFS Forecast';
    
    
  }
});

/* colorbar */
const cbRoot = document.getElementById('colorbar');
const cbX = i => 229.5 + i * 54.9;
colorbarColors.forEach(function(col, i){
  const r = make('rect', {x:cbX(i), y:972, width:54.9, height:23, fill:col, stroke:'#000', 'stroke-width':1.2}, cbRoot);
  
  
});
colorbarLabels.forEach(function(lab, i){
  const t = make('text', {x:cbX(i + 1), y:1023, 'text-anchor':'middle', 'font-size':29}, cbRoot);
  t.textContent = lab;
  
  
});
</script>
</body>
</html>
